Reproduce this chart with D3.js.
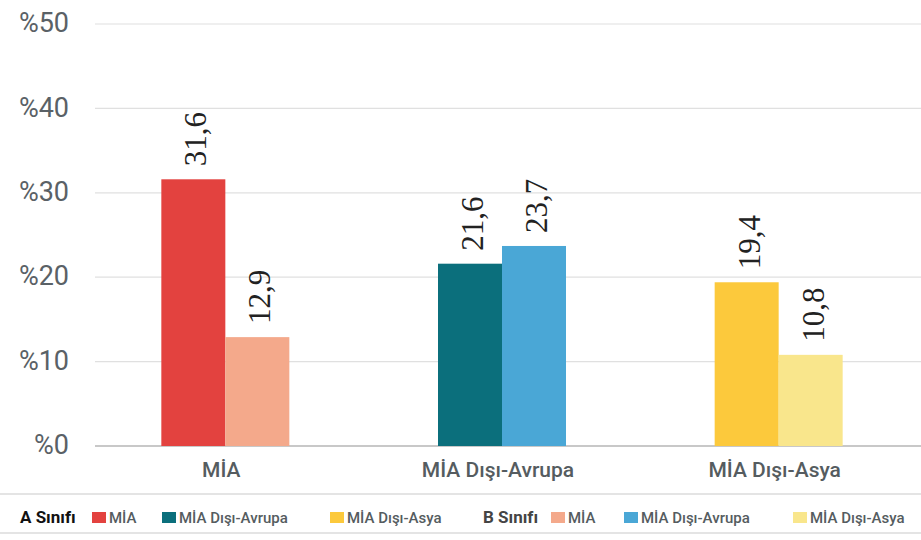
<!DOCTYPE html>
<html>
<head>
<meta charset="utf-8">
<script src="https://cdn.jsdelivr.net/npm/d3@7"></script>
<style>
  body { margin: 0; background: #fff; }
  svg text { font-family: "Roboto", "Liberation Sans", sans-serif; }
</style>
</head>
<body>
<div id="chart"></div>
<script>
var width = 921;
var height = 540;

// categories on the x axis
var categories = ["MİA", "MİA Dışı-Avrupa", "MİA Dışı-Asya"];
// A Sınıfı and B Sınıfı values for each category
var classA = [31.6, 21.6, 19.4];
var classB = [12.9, 23.7, 10.8];
var yTicks = [0, 10, 20, 30, 40, 50];
var colorsA = ["#e3423f", "#0b6f7c", "#fcc93c"];
var colorsB = ["#f4a98b", "#4aa7d6", "#f9e68c"];

var legendGroups = [
    {title: "A Sınıfı", colors: colorsA},
    {title: "B Sınıfı", colors: colorsB}
];

var svg = d3.select("#chart").append("svg")
    .attr("width", width)
    .attr("height", height);

var x = d3.scaleBand()
    .domain(categories)
    .range([87, 917]);

var y = d3.scaleLinear()
    .domain([0, 50])
    .range([446, 24]);

var barW = 64;

// gridlines
svg.selectAll("line.grid")
    .data(yTicks)
    .enter().append("line")
    .attr("class", "grid")
    .attr("x1", 95)
    .attr("x2", 921)
    .attr("y1", function (d) { return y(d); })
    .attr("y2", function (d) { return y(d); })
    .attr("stroke", function (d) { return d === 0 ? "#c8c8c8" : "#e0e0e0"; })
    .attr("stroke-width", function (d) { return d === 0 ? 2 : 1.2; });

// y tick labels
svg.selectAll("text.ytick")
    .data(yTicks)
    .enter().append("text")
    .attr("class", "ytick")
    .attr("x", 69)
    .attr("y", function (d) { return y(d) + 1; })
    .attr("text-anchor", "end")
    .attr("dominant-baseline", "middle")
    .attr("font-size", 27)
    .attr("fill", "#5a6166")
    .text(function (d) { return "%" + d; });

var rows = categories.map(function (c, i) {
    return {cat: c, a: classA[i], b: classB[i], ca: colorsA[i], cb: colorsB[i]};
});

var bars = [];
rows.forEach(function (r) {
    var cx = x(r.cat) + x.bandwidth() / 2;
    bars.push({x: cx - barW, v: r.a, color: r.ca});
    bars.push({x: cx, v: r.b, color: r.cb});
});

svg.selectAll("rect.bar")
    .data(bars)
    .enter().append("rect")
    .attr("class", "bar")
    .attr("x", function (d) { return d.x; })
    .attr("width", barW)
    .attr("y", function (d) { return y(d.v); })
    .attr("height", function (d) { return y(0) - y(d.v); })
    .attr("fill", function (d) { return d.color; });

// rotated value labels
svg.selectAll("text.val")
    .data(bars)
    .enter().append("text")
    .attr("class", "val")
    .attr("transform", function (d) {
        return "translate(" + (d.x + barW / 2 + 13) + "," + (y(d.v) - 13) + ") rotate(-90)";
    })
    .attr("text-anchor", "start")
    .attr("font-size", 31)
    .style("font-family", "'Liberation Serif', serif")
    .attr("fill", "#222")
    .text(function (d) { return d3.format(".1f")(d.v).replace(".", ","); });

// category labels
svg.selectAll("text.cat")
    .data(categories)
    .enter().append("text")
    .attr("class", "cat")
    .attr("x", function (d) { return x(d) + x.bandwidth() / 2 - 4; })
    .attr("y", 477)
    .attr("text-anchor", "middle")
    .attr("font-size", 21)
    .attr("font-weight", 500)
    .attr("fill", "#555c60")
    .text(function (d) { return d; });

// legend frame lines
[494, 533].forEach(function (ly) {
    svg.append("line")
        .attr("x1", 0).attr("x2", width)
        .attr("y1", ly).attr("y2", ly)
        .attr("stroke", "#e4e4e4")
        .attr("stroke-width", 2);
});

var legendX = [
    {title: 20, items: [92, 162, 330]},
    {title: 483, items: [551, 624, 793]}
];

legendGroups.forEach(function (g, gi) {
    var lg = svg.append("g");
    lg.append("text")
        .attr("x", legendX[gi].title)
        .attr("y", 523)
        .attr("font-size", 17)
        .attr("font-weight", "bold")
        .attr("fill", gi === 0 ? "#111" : "#444")
        .text(g.title);
    categories.forEach(function (c, i) {
        var lx = legendX[gi].items[i];
        lg.append("rect")
            .attr("x", lx)
            .attr("y", 512)
            .attr("width", 14)
            .attr("height", 11)
            .attr("fill", g.colors[i]);
        lg.append("text")
            .attr("x", lx + 17)
            .attr("y", 523)
            .attr("font-size", 15)
            .attr("font-weight", 500)
            .attr("fill", "#555c60")
            .text(c);
    });
});
</script>
</body>
</html>
